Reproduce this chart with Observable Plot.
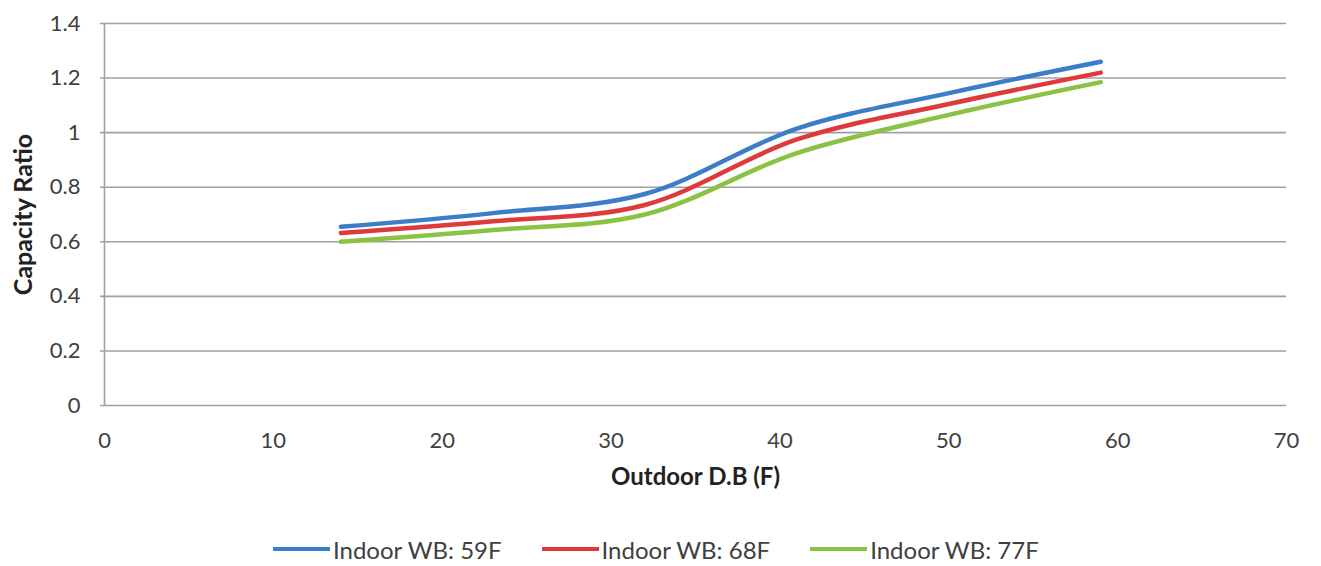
<!DOCTYPE html>
<html>
<head>
<meta charset="utf-8">
<script src="https://cdn.jsdelivr.net/npm/d3@7"></script>
<script src="https://cdn.jsdelivr.net/npm/@observablehq/plot@0.6"></script>
<style>
  body { margin: 0; background: #fff; font-family: Lato, "Open Sans", sans-serif; }
  #legend { display: flex; justify-content: flex-start; align-items: center; height: 30px; margin-top: 28px; padding-left: 273px; font-size: 24px; color: #404040; }
  .item { display: flex; align-items: center; margin-right: 40px; }
  .sw { width: 57px; height: 4.5px; margin-right: 3px; }
</style>
</head>
<body>
<div id="chart"></div>
<div id="legend"></div>
<script>
const outdoorDB = [14, 23, 32, 41, 50, 59];
const wb59 = [0.655, 0.705, 0.775, 1.015, 1.145, 1.26];
const wb68 = [0.632, 0.675, 0.735, 0.975, 1.105, 1.22];
const wb77 = [0.600, 0.643, 0.700, 0.925, 1.065, 1.185];
const seriesNames = ["Indoor WB: 59F", "Indoor WB: 68F", "Indoor WB: 77F"];
const seriesColors = ["#3b7dc8", "#dd3b3b", "#8cc244"];
const xTicks = [0, 10, 20, 30, 40, 50, 60, 70];
const yTicks = [0, 0.2, 0.4, 0.6, 0.8, 1, 1.2, 1.4];

const seriesValues = [wb59, wb68, wb77];
const rows = [];
seriesValues.forEach((vals, i) => vals.forEach((v, j) => rows.push({x: outdoorDB[j], y: v, s: seriesNames[i]})));

const W = 1321, H = 506;
const chart = Plot.plot({
  width: W, height: H,
  marginLeft: 104, marginRight: 35, marginTop: 23, marginBottom: H - 405,
  style: {fontFamily: "Lato, 'Open Sans', sans-serif", fontSize: "22px", color: "#404040", background: "#fff"},
  x: {domain: [0, 70]},
  y: {domain: [0, 1.4]},
  color: {domain: seriesNames, range: seriesColors},
  marks: [
    Plot.ruleY(yTicks, {stroke: "#a0a0a0", strokeWidth: 1.6, x1: 0, x2: 70, insetLeft: -4}),
    Plot.ruleX([0], {stroke: "#a0a0a0", strokeWidth: 1.6}),
    Plot.axisY({ticks: yTicks, tickSize: 0, tickPadding: 24, tickFormat: d => String(+d.toFixed(1)), label: null, fill: "#404040", fontSize: 22}),
    Plot.axisX({ticks: xTicks, tickSize: 0, tickPadding: 27, label: null, fill: "#404040", fontSize: 22}),
    Plot.line(rows, {x: "x", y: "y", z: "s", stroke: "s", strokeWidth: 4.5, curve: "catmull-rom"}),
    Plot.text(["Outdoor D.B (F)"], {frameAnchor: "bottom", dy: 79, fontWeight: "bold", fontSize: 24, fill: "#222"}),
    Plot.text(["Capacity Ratio"], {frameAnchor: "left", textAnchor: "middle", dx: -81, rotate: -90, fontWeight: "bold", fontSize: 25, fill: "#222"})
  ]
});
document.getElementById("chart").appendChild(chart);

const lg = document.getElementById("legend");
seriesNames.forEach((n, i) => {
  const it = document.createElement("div"); it.className = "item";
  const sw = document.createElement("div"); sw.className = "sw"; sw.style.background = seriesColors[i];
  const t = document.createElement("span"); t.textContent = n;
  it.appendChild(sw); it.appendChild(t); lg.appendChild(it);
});
</script>
</body>
</html>
